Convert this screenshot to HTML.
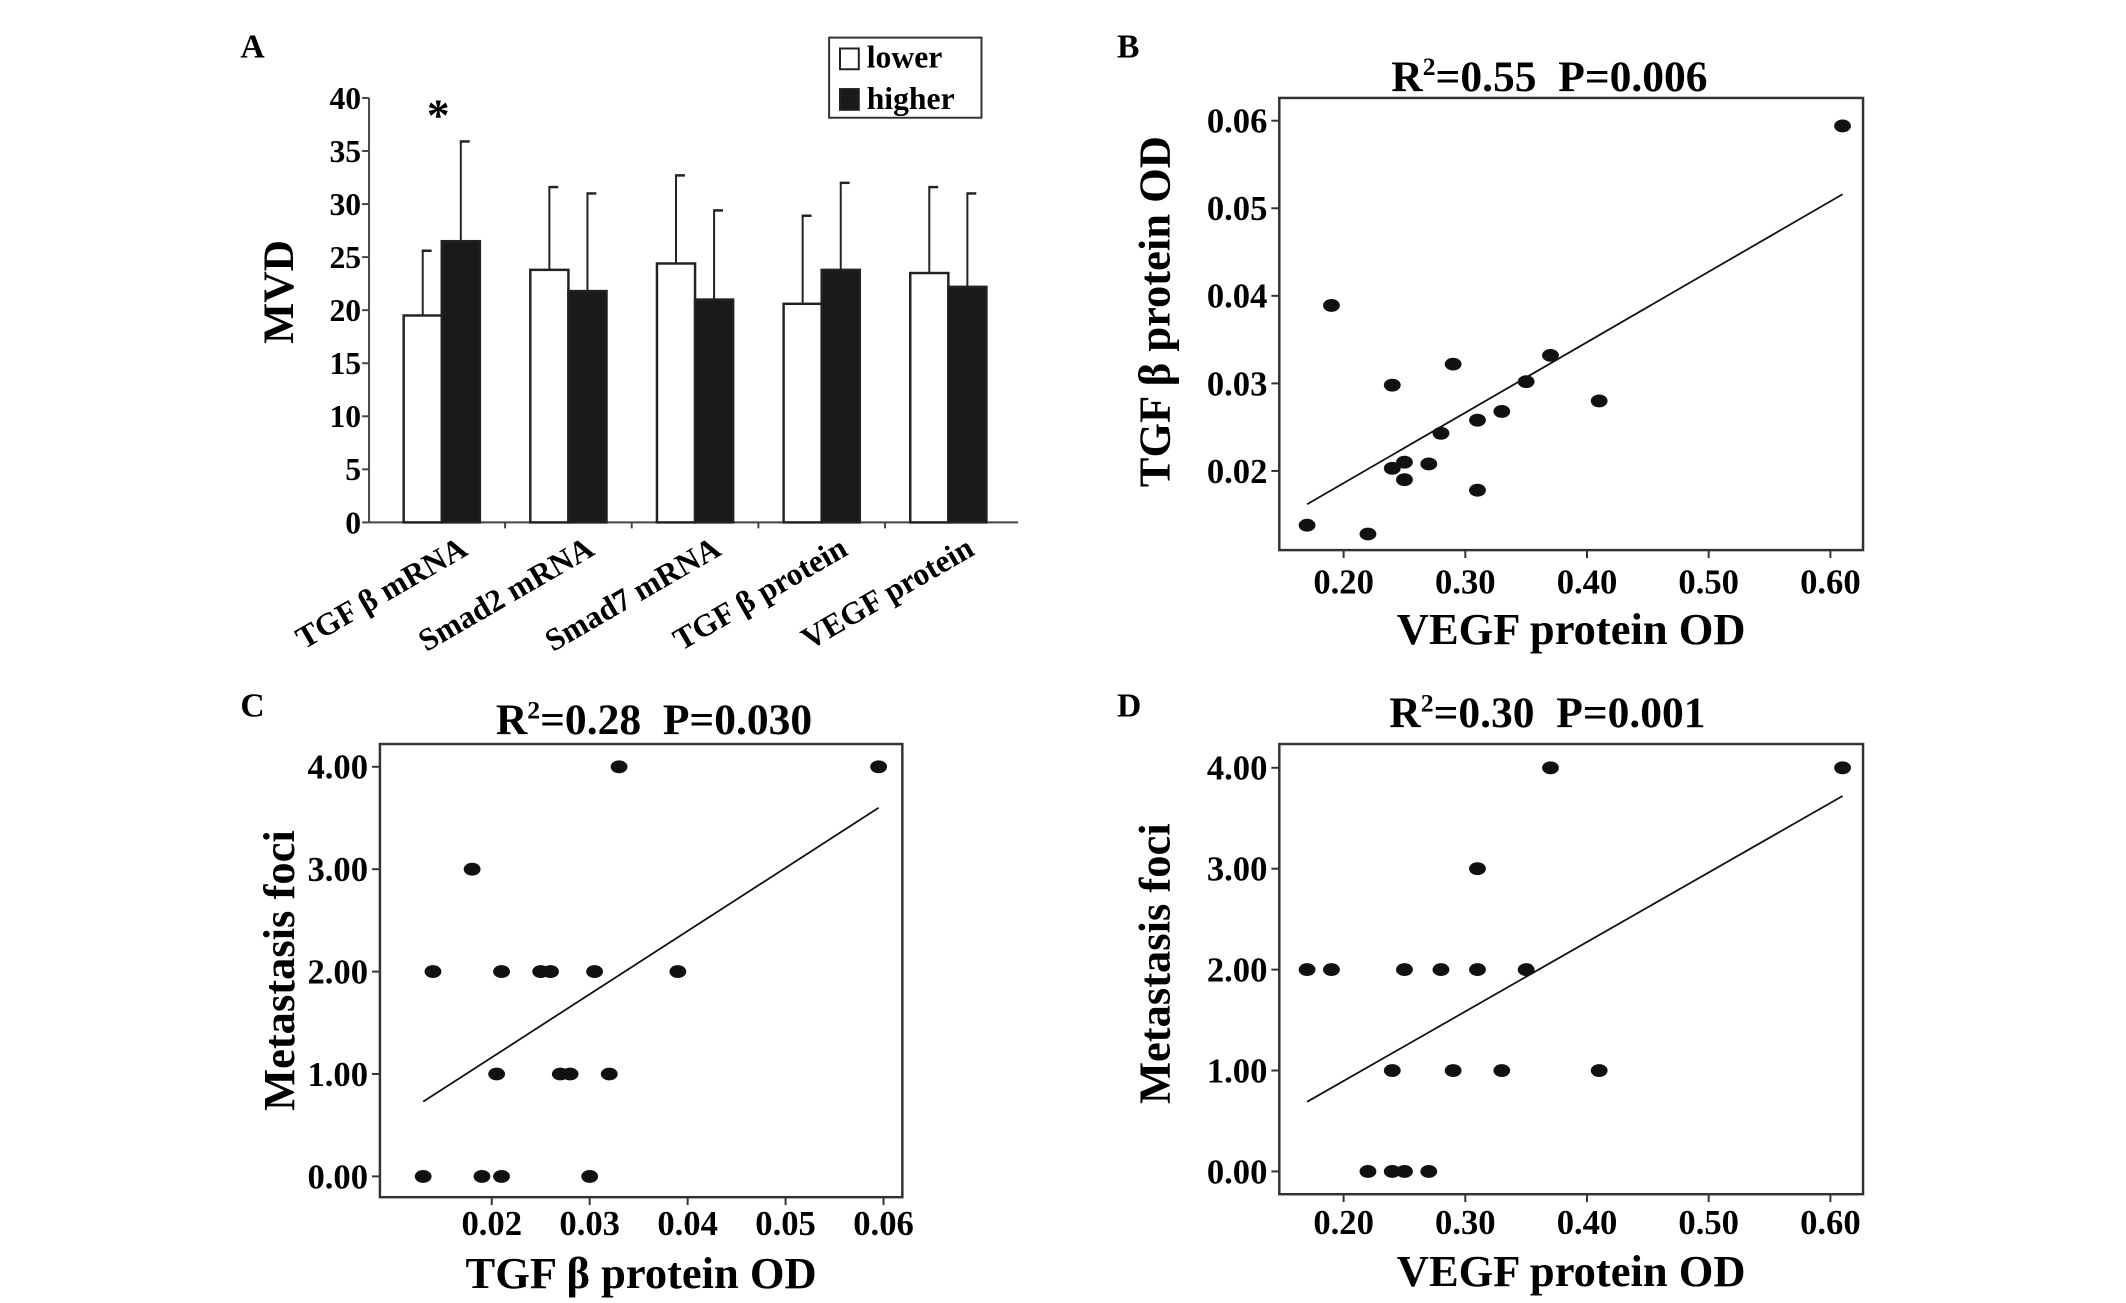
<!DOCTYPE html>
<html><head><meta charset="utf-8"><style>
html,body{margin:0;padding:0;background:#fff}
svg{display:block;font-family:"Liberation Serif",serif;font-weight:bold}
</style></head><body>
<svg width="2126" height="1303" viewBox="0 0 2126 1303" xmlns="http://www.w3.org/2000/svg"><g id="fig" transform="scale(0.9894)"></g></svg>
<script>
// Panel A data
const categoriesA = ["TGF β mRNA","Smad2 mRNA","Smad7 mRNA","TGF β protein","VEGF protein"];
const lowerMeans = [19.5,23.8,24.4,20.6,23.5];
const higherMeans = [26.5,21.8,21.0,23.8,22.2];
const lowerErrTop = [25.6,31.6,32.7,28.9,31.6];
const higherErrTop = [35.9,31.0,29.4,32.0,31.0];
const yTicksA = [0,5,10,15,20,25,30,35,40];
// Panel B data
const bX = [0.17,0.19,0.22,0.24,0.24,0.25,0.25,0.27,0.28,0.29,0.31,0.31,0.33,0.35,0.37,0.41,0.61];
const bY = [0.0138,0.0389,0.0128,0.0298,0.0203,0.0210,0.0190,0.0208,0.0243,0.0322,0.0258,0.0178,0.0268,0.0302,0.0332,0.0280,0.0594];
const bFitX = [0.17,0.61];
const bFitY = [0.0162,0.0516];
const bXTicks = [0.20,0.30,0.40,0.50,0.60];
const bYTicks = [0.02,0.03,0.04,0.05,0.06];
// Panel C data
const cX = [0.013,0.014,0.018,0.019,0.0205,0.021,0.021,0.025,0.026,0.027,0.028,0.030,0.0305,0.032,0.033,0.039,0.0595];
const cY = [0,2,3,0,1,0,2,2,2,1,1,0,2,1,4,2,4];
const cFitX = [0.013,0.0595];
const cFitY = [0.73,3.6];
const cXTicks = [0.02,0.03,0.04,0.05,0.06];
const cYTicks = [0,1,2,3,4];
// Panel D data
const dX = [0.17,0.19,0.22,0.24,0.24,0.25,0.25,0.27,0.28,0.29,0.31,0.31,0.33,0.35,0.37,0.41,0.61];
const dY = [2,2,0,0,1,0,2,0,2,1,3,2,1,2,4,1,4];
const dFitX = [0.17,0.61];
const dFitY = [0.69,3.72];
const dXTicks = [0.20,0.30,0.40,0.50,0.60];
const dYTicks = [0,1,2,3,4];

const NS="http://www.w3.org/2000/svg";
const svg=document.getElementById('fig');
function mk(tag,attrs,parent){const e=document.createElementNS(NS,tag);for(const k in attrs)e.setAttribute(k,attrs[k]);(parent||svg).appendChild(e);return e;}
function txt(s,attrs,parent){const e=mk('text',attrs,parent);e.textContent=s;return e;}
function lin(a,b,c,d){return v=>c+(v-a)*(d-c)/(b-a);}

// ---------- Panel A ----------
const gA=mk('g',{});


const yA=lin(0,40,528,99);
const axX=373, axRight=1029, gap=128, bw=38.5, g0=408;
let pl=txt('A',{x:243,y:58,'font-size':34},gA);

let ya=mk('line',{x1:axX,y1:yA(0),x2:axX,y2:yA(40),stroke:'#444','stroke-width':2},gA);

let xa=mk('line',{x1:axX,y1:yA(0),x2:axRight,y2:yA(0),stroke:'#444','stroke-width':2},gA);

yTicksA.forEach(t=>{
  let l=mk('line',{x1:axX-7,y1:yA(t),x2:axX,y2:yA(t),stroke:'#444','stroke-width':2},gA);
  
  let tl=txt(String(t),{x:axX-8,y:yA(t)+11,'font-size':32,'text-anchor':'end'},gA);
  
});
let mv=txt('MVD',{x:0,y:0,'font-size':44,'text-anchor':'middle',transform:'translate(296,295) rotate(-90)'},gA);

categoriesA.forEach((c,i)=>{
  const x0=g0+i*gap, cx=x0+bw;
  [[lowerMeans[i],lowerErrTop[i],'#fff',x0,'bar-lower'],[higherMeans[i],higherErrTop[i],'#1a1a1a',x0+bw,'bar-higher']].forEach(([m,e,f,x,nm])=>{
    let eb=mk('line',{x1:x+bw/2,y1:yA(m),x2:x+bw/2,y2:yA(e),stroke:'#222','stroke-width':2},gA);
    
    let cap=mk('line',{x1:x+bw/2-1,y1:yA(e),x2:x+bw/2+9,y2:yA(e),stroke:'#222','stroke-width':2.5},gA);
    
    let r=mk('rect',{x:x,y:yA(m),width:bw,height:yA(0)-yA(m),fill:f,stroke:'#222','stroke-width':2.5},gA);
    
  });
  if(i>0){let tk=mk('line',{x1:x0-(gap-2*bw)/2,y1:yA(0),x2:x0-(gap-2*bw)/2,y2:yA(0)+6,stroke:'#444','stroke-width':2},gA);
    }
  let cl=txt(c,{x:0,y:0,'font-size':32,'text-anchor':'end',transform:`translate(${cx+28},${560}) rotate(-30)`},gA);
  
});
let star=txt('*',{x:443,y:132,'font-size':46,'text-anchor':'middle'},gA);

const lg=mk('g',{},gA);

mk('rect',{x:838,y:38,width:154,height:81,fill:'#fff',stroke:'#333','stroke-width':2},lg);
let s1=mk('rect',{x:849,y:49,width:19,height:21,fill:'#fff',stroke:'#222','stroke-width':2},lg);

let s2=mk('rect',{x:849,y:90,width:19,height:21,fill:'#1a1a1a',stroke:'#222','stroke-width':2},lg);

let l1=txt('lower',{x:876,y:68,'font-size':32},lg);

let l2=txt('higher',{x:876,y:110,'font-size':32},lg);


// ---------- Scatter panels ----------
function scatter(o){
  const g=mk('g',{});
  
  
  const sx=lin(o.xd[0],o.xd[1],o.xr[0],o.xr[1]), sy=lin(o.yd[0],o.yd[1],o.yr[0],o.yr[1]);
  let p=txt(o.letter,{x:o.letterPos[0],y:o.letterPos[1],'font-size':34},g);
  
  const t=mk('text',{x:o.titlePos[0],y:o.titlePos[1],'font-size':44,'text-anchor':'middle'},g);
  
  t.innerHTML=`R<tspan font-size="26" dy="-16">2</tspan><tspan dy="16">=${o.r2}\u00a0\u00a0P=${o.p}</tspan>`;
  let b=mk('rect',{x:o.box[0],y:o.box[1],width:o.box[2]-o.box[0],height:o.box[3]-o.box[1],fill:'none',stroke:'#333','stroke-width':2.5},g);
  
  o.xt.forEach(v=>{
    let l=mk('line',{x1:sx(v),y1:o.box[3],x2:sx(v),y2:o.box[3]+8,stroke:'#333','stroke-width':2},g);
    
    let tl=txt(v.toFixed(o.xdec),{x:sx(v),y:o.box[3]+o.xtOff,'font-size':35,'text-anchor':'middle'},g);
    
  });
  o.yt.forEach(v=>{
    let l=mk('line',{x1:o.box[0]-8,y1:sy(v),x2:o.box[0],y2:sy(v),stroke:'#333','stroke-width':2},g);
    
    let tl=txt(v.toFixed(o.ydec),{x:o.box[0]-12,y:sy(v)+12,'font-size':35,'text-anchor':'end'},g);
    
  });
  let fl=mk('line',{x1:sx(o.fx[0]),y1:sy(o.fy[0]),x2:sx(o.fx[1]),y2:sy(o.fy[1]),stroke:'#111','stroke-width':1.8},g);
  
  o.X.forEach((x,i)=>{
    let d=mk('ellipse',{cx:sx(x),cy:sy(o.Y[i]),rx:8.5,ry:6.5,fill:'#111'},g);
    
  });
  let xl=txt(o.xlab,{x:(o.box[0]+o.box[2])/2,y:o.xlabY,'font-size':45,'text-anchor':'middle'},g);
  
  let yl=txt(o.ylab,{x:0,y:0,'font-size':45,'text-anchor':'middle',transform:`translate(${o.ylabPos[0]},${o.ylabPos[1]}) rotate(-90)`},g);
  
}
scatter({name:'panel-b-scatter',letter:'B',letterPos:[1129,58],titlePos:[1566,92],r2:'0.55',p:'0.006',
  box:[1293,99,1883,556],xd:[0.2,0.6],xr:[1358,1850],yd:[0.02,0.06],yr:[476,122],xt:bXTicks,yt:bYTicks,xdec:2,ydec:2,xtOff:44,
  X:bX,Y:bY,fx:bFitX,fy:bFitY,xlab:'VEGF protein OD',xlabY:651,ylab:'TGF β protein OD',ylabPos:[1182,315]});
scatter({name:'panel-c-scatter',letter:'C',letterPos:[243,724],titlePos:[661,742],r2:'0.28',p:'0.030',
  box:[384,752,912,1210],xd:[0.02,0.06],xr:[497,893],yd:[0,4],yr:[1189,775],xt:cXTicks,yt:cYTicks,xdec:2,ydec:2,xtOff:38,
  X:cX,Y:cY,fx:cFitX,fy:cFitY,xlab:'TGF β protein OD',xlabY:1302,ylab:'Metastasis foci',ylabPos:[297,981]});
scatter({name:'panel-d-scatter',letter:'D',letterPos:[1129,724],titlePos:[1564,735],r2:'0.30',p:'0.001',
  box:[1293,752,1883,1207],xd:[0.2,0.6],xr:[1358,1850],yd:[0,4],yr:[1184,776],xt:dXTicks,yt:dYTicks,xdec:2,ydec:2,xtOff:40,
  X:dX,Y:dY,fx:dFitX,fy:dFitY,xlab:'VEGF protein OD',xlabY:1300,ylab:'Metastasis foci',ylabPos:[1182,974]});
</script>
</body></html>
